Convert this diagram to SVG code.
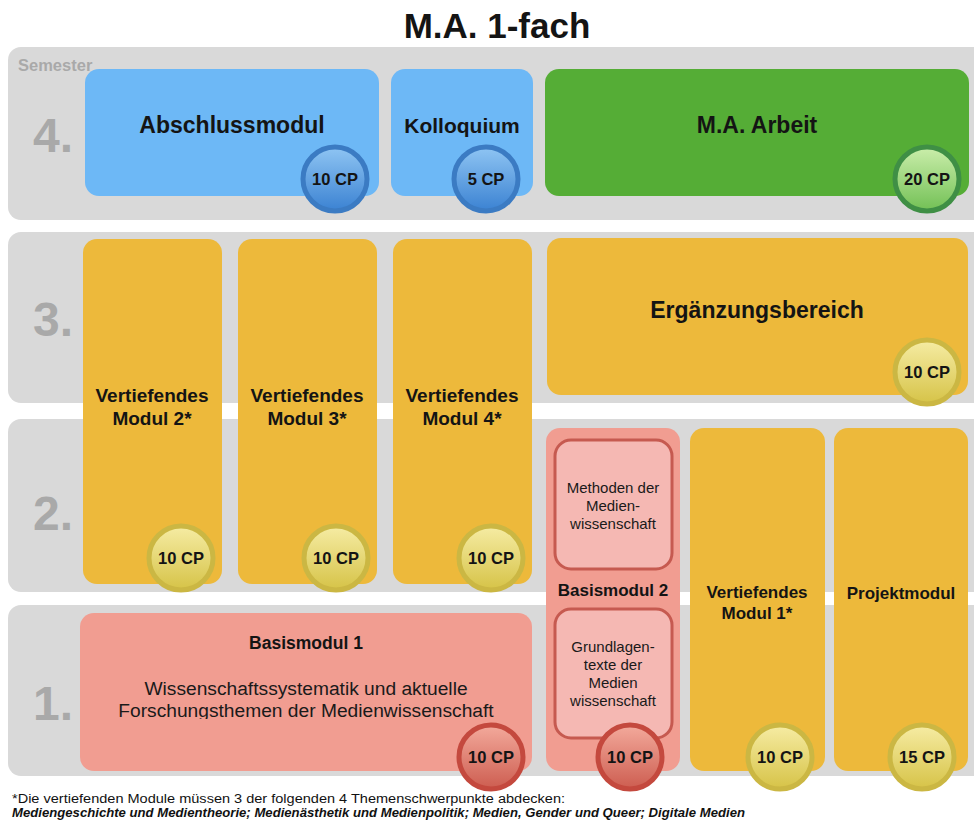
<svg xmlns="http://www.w3.org/2000/svg" width="974" height="825" viewBox="0 0 974 825">
<defs>
  <linearGradient id="gBlue" x1="0" y1="0" x2="0" y2="1"><stop offset="0" stop-color="#8fc5f3"/><stop offset="1" stop-color="#3b82d2"/></linearGradient>
  <linearGradient id="gYel" x1="0" y1="0" x2="0" y2="1"><stop offset="0" stop-color="#f6eca4"/><stop offset="1" stop-color="#d6c347"/></linearGradient>
  <linearGradient id="gRed" x1="0" y1="0" x2="0" y2="1"><stop offset="0" stop-color="#f3aa9c"/><stop offset="1" stop-color="#cd5d50"/></linearGradient>
  <linearGradient id="gGreen" x1="0" y1="0" x2="0" y2="1"><stop offset="0" stop-color="#cbeeab"/><stop offset="1" stop-color="#72c055"/></linearGradient>
  <clipPath id="clipLine"><rect x="80" y="600" width="452" height="119"/></clipPath>
</defs>
<style>
  .band{fill:#d9d9d9}
  .num{font-family:"Liberation Sans",Arial,sans-serif;font-weight:bold;font-size:48px;fill:#a9a9a9}
  .sem{font-family:"Liberation Sans",Arial,sans-serif;font-weight:bold;font-size:16.5px;fill:#a9a9a9}
  .t{font-family:"Liberation Sans",Arial,sans-serif;font-weight:bold;fill:#141414;text-anchor:middle}
  .big{font-size:23px}
  .mid{font-size:19px}
  .reg{font-family:"Liberation Sans",Arial,sans-serif;fill:#1a1a1a;text-anchor:middle}
  .sm{font-size:15px}
  .cp{font-family:"Liberation Sans",Arial,sans-serif;font-weight:bold;font-size:16.5px;fill:#141414;text-anchor:middle}
  .blue{fill:#6db8f6}
  .green{fill:#55ad36}
  .yel{fill:#edb93b}
  .red{fill:#f19d91}
  .inner{fill:#f5b8b3;stroke:#c65a50;stroke-width:3}
  .cB{fill:url(#gBlue);stroke:#3b7bc3;stroke-width:5}
  .cY{fill:url(#gYel);stroke:#cbb743;stroke-width:5}
  .cR{fill:url(#gRed);stroke:#c4493e;stroke-width:5}
  .cG{fill:url(#gGreen);stroke:#3f8f45;stroke-width:5}
  .foot{font-family:"Liberation Sans",Arial,sans-serif;font-size:12.5px;fill:#111}
</style>
<rect width="974" height="825" fill="#ffffff"/>
<text x="497" y="38" class="t" style="font-size:35px">M.A. 1-fach</text>

<g id="semesters">
  <rect class="band" x="8" y="47" width="990" height="173" rx="13"/>
  <rect class="band" x="8" y="232" width="990" height="171" rx="13"/>
  <rect class="band" x="8" y="419" width="990" height="173" rx="13"/>
  <rect class="band" x="8" y="605" width="990" height="171" rx="13"/>
  <text x="18" y="71" class="sem">Semester</text>
  <text x="33" y="152" class="num">4.</text>
  <text x="33" y="336" class="num">3.</text>
  <text x="33" y="530" class="num">2.</text>
  <text x="33" y="720" class="num">1.</text>
</g>

<g id="connectors"></g>

<g id="abschlussmodul">
  <rect class="blue" x="85" y="69" width="294" height="127" rx="14"/>
  <text x="232" y="133" class="t big">Abschlussmodul</text>
  <circle class="cB" cx="335" cy="179" r="32"/>
  <text x="335" y="185" class="cp">10 CP</text>
</g>
<g id="kolloquium">
  <rect class="blue" x="391" y="69" width="142" height="127" rx="14"/>
  <text x="462" y="133" class="t" style="font-size:21px">Kolloquium</text>
  <circle class="cB" cx="486" cy="179" r="32"/>
  <text x="486" y="185" class="cp">5 CP</text>
</g>
<g id="ma-arbeit">
  <rect class="green" x="545" y="69" width="424" height="127" rx="14"/>
  <text x="757" y="133" class="t big">M.A. Arbeit</text>
  <circle class="cG" cx="927" cy="179" r="32"/>
  <text x="927" y="185" class="cp">20 CP</text>
</g>

<g id="ergaenzungsbereich">
  <rect class="yel" x="547" y="238" width="421" height="157" rx="14"/>
  <text x="757" y="318" class="t big">Ergänzungsbereich</text>
  <circle class="cY" cx="927" cy="372" r="32"/>
  <text x="927" y="378" class="cp">10 CP</text>
</g>

<g id="vertiefendes-modul-2">
  <rect class="yel" x="83" y="239" width="139" height="345" rx="14"/>
  <text x="152" y="402" class="t mid">Vertiefendes</text>
  <text x="152" y="425" class="t mid">Modul 2*</text>
  <circle class="cY" cx="181" cy="558" r="32"/>
  <text x="181" y="564" class="cp">10 CP</text>
</g>
<g id="vertiefendes-modul-3">
  <rect class="yel" x="238" y="239" width="139" height="345" rx="14"/>
  <text x="307" y="402" class="t mid">Vertiefendes</text>
  <text x="307" y="425" class="t mid">Modul 3*</text>
  <circle class="cY" cx="336" cy="558" r="32"/>
  <text x="336" y="564" class="cp">10 CP</text>
</g>
<g id="vertiefendes-modul-4">
  <rect class="yel" x="393" y="239" width="139" height="345" rx="14"/>
  <text x="462" y="402" class="t mid">Vertiefendes</text>
  <text x="462" y="425" class="t mid">Modul 4*</text>
  <circle class="cY" cx="491" cy="558" r="32"/>
  <text x="491" y="564" class="cp">10 CP</text>
</g>

<g id="basismodul-2">
  <rect class="red" x="546" y="428" width="134" height="343" rx="14"/>
  <rect class="inner" x="555" y="440" width="117" height="129" rx="16"/>
  <text x="613" y="493" class="reg sm">Methoden der</text>
  <text x="613" y="511" class="reg sm">Medien-</text>
  <text x="613" y="529" class="reg sm">wissenschaft</text>
  <text x="613" y="596" class="t" style="font-size:17px">Basismodul 2</text>
  <rect class="inner" x="555" y="609" width="117" height="129" rx="16"/>
  <text x="613" y="652" class="reg sm">Grundlagen-</text>
  <text x="613" y="670" class="reg sm">texte der</text>
  <text x="613" y="688" class="reg sm">Medien</text>
  <text x="613" y="706" class="reg sm">wissenschaft</text>
  <circle class="cR" cx="630" cy="757" r="32"/>
  <text x="630" y="763" class="cp">10 CP</text>
</g>

<g id="vertiefendes-modul-1">
  <rect class="yel" x="690" y="428" width="135" height="343" rx="14"/>
  <text x="757" y="598" class="t" style="font-size:17px">Vertiefendes</text>
  <text x="757" y="619" class="t" style="font-size:17px">Modul 1*</text>
  <circle class="cY" cx="780" cy="757" r="32"/>
  <text x="780" y="763" class="cp">10 CP</text>
</g>

<g id="projektmodul">
  <rect class="yel" x="834" y="428" width="134" height="343" rx="14"/>
  <text x="901" y="599" class="t" style="font-size:17px">Projektmodul</text>
  <circle class="cY" cx="922" cy="757" r="32"/>
  <text x="922" y="763" class="cp">15 CP</text>
</g>

<g id="basismodul-1">
  <rect class="red" x="80" y="613" width="452" height="158" rx="14"/>
  <text x="306" y="649" class="t" style="font-size:17.5px">Basismodul 1</text>
  <text x="306" y="695" class="reg" style="font-size:19.2px">Wissenschaftssystematik und aktuelle</text>
  <text x="306" y="717" class="reg" style="font-size:19.2px" clip-path="url(#clipLine)">Forschungsthemen der Medienwissenschaft</text>
  <circle class="cR" cx="491" cy="757" r="32"/>
  <text x="491" y="763" class="cp">10 CP</text>
</g>

<g id="footnote">
  <text x="12" y="803" class="foot" textLength="553" lengthAdjust="spacingAndGlyphs">*Die vertiefenden Module müssen 3 der folgenden 4 Themenschwerpunkte abdecken:</text>
  <text x="12" y="817" class="foot" style="font-weight:bold;font-style:italic" textLength="733" lengthAdjust="spacingAndGlyphs">Mediengeschichte und Medientheorie; Medienästhetik und Medienpolitik; Medien, Gender und Queer; Digitale Medien</text>
</g>
</svg>
